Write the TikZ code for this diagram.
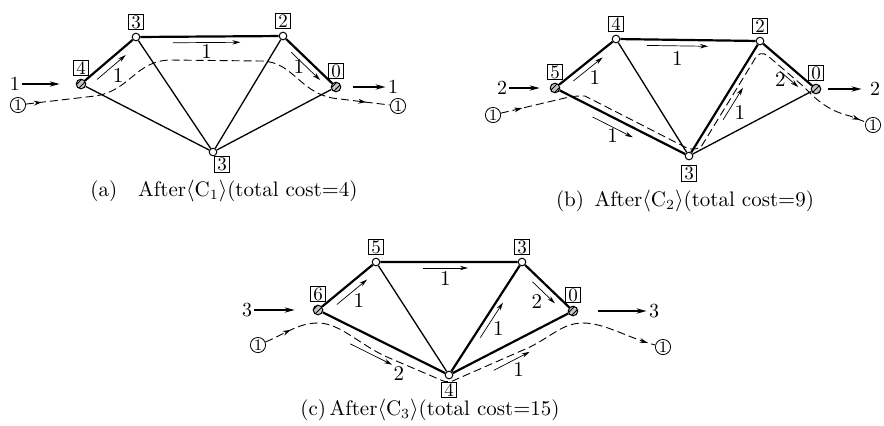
\documentclass[tikz,border=0pt]{standalone}
\usepackage{fontspec}
\usepackage{tikz}
\usetikzlibrary{positioning, arrows.meta, calc, patterns, decorations.markings}

\begin{document}
\begin{tikzpicture}[x=0.5pt, y=-0.5pt, node distance=1.4pt, >=Stealth,
    vtx/.style={circle, draw, fill=white, line width=0.5pt, inner sep=0pt, minimum size=3.8pt},
    term/.style={circle, draw, line width=0.5pt, inner sep=0pt, minimum size=4.8pt, fill=gray!45, postaction={pattern=north east lines}},
    lab/.style={draw, line width=0.4pt, inner sep=0pt, minimum size=7.6pt, font=\fontsize{9.5}{9.5}\selectfont},
    thinedge/.style={line width=0.65pt},
    flowedge/.style={line width=1.1pt},
    flow/.style={->, line width=0.35pt, >={Stealth[length=4pt, width=2.2pt]}},
    flowlab/.style={inner sep=0.6pt, font=\fontsize{10.5}{10.5}\selectfont},
    io/.style={->, line width=1.1pt, >={Stealth[length=5pt, width=2.6pt]}},
    iolab/.style={inner sep=1pt, font=\fontsize{10}{10}\selectfont},
    cnum/.style={circle, draw, line width=0.4pt, inner sep=0pt, minimum size=7.6pt, font=\fontsize{8}{8}\selectfont},
    dpath/.style 2 args={dash pattern=on 4pt off 2pt, line width=0.45pt,
      postaction={decorate, decoration={markings,
        mark=at position #1 with {\arrow{Stealth[length=4pt, width=2.4pt]}},
        mark=at position #2 with {\arrow{Stealth[length=4pt, width=2.4pt]}}}}},
    captxt/.style={inner sep=1pt, font=\fontsize{10.5}{12}\selectfont}]
  \useasboundingbox (0,0) rectangle (884,425);

  % (a) after C1
  \node[term] (aS) at (81,84) {};
  \node[vtx] (aTL) at (136,37) {};
  \node[vtx] (aTR) at (283,36) {};
  \node[term] (aT) at (336,87) {};
  \node[vtx] (aB) at (213,152) {};
  \node[lab, above=of aS] (aSlab) {4};
  \node[lab, above=of aTL] (aTLlab) {3};
  \node[lab, above=of aTR] (aTRlab) {2};
  \node[lab, above=of aT] (aTlab) {0};
  \node[lab, below=0pt of aB, xshift=4.5pt] (aBlab) {3};
  \draw[flowedge] (aS) -- (aTL) -- (aTR) -- (aT);
  \draw[thinedge] (aS) -- (aB) -- (aT) (aTL) -- (aB) -- (aTR);
  \draw[flow] ($(aS)!.21!(aTL)!3.5pt!-90:(aTL)$) -- node[flowlab, below right] {1} ($(aS)!.73!(aTL)!3.5pt!-90:(aTL)$);
  \draw[flow] ($(aTL)!.25!(aTR)!3pt!-90:(aTR)$) -- node[flowlab, below] {1} ($(aTL)!.71!(aTR)!3pt!-90:(aTR)$);
  \draw[flow] ($(aTR)!.23!(aT)!3pt!-90:(aT)$) -- node[flowlab, left] {1} ($(aTR)!.78!(aT)!3pt!-90:(aT)$);
  \node[iolab] (ainL) at (15,84) {1};
  \node[iolab] (aoutR) at (393,87) {1};
  \draw[io, shorten >=8pt] (ainL) -- (aS);
  \draw[io, shorten <=6pt] (aT) -- (aoutR);
  \node[cnum] (aCL) at (18,105) {1};
  \node[cnum] (aCR) at (398,106) {1};
  \draw[dpath={8pt}{-12pt}] (aCL) -- (95,96) .. controls (130,91) and (135,61) .. (170,60) -- (262,61) .. controls (295,62) and (300,96) .. (340,99) -- (aCR);
  \node[captxt] (acap) at (224,191) {(a)\hspace{1em}After$\langle\mathrm{C}_1\rangle$(total cost$=$4)};

  % (b) after C2
  \node[term] (bS) at (555,88) {};
  \node[vtx] (bTL) at (616,39) {};
  \node[vtx] (bTR) at (760,41) {};
  \node[term] (bT) at (816,89) {};
  \node[vtx] (bB) at (689,156) {};
  \node[lab, above=of bS] (bSlab) {5};
  \node[lab, above=of bTL] (bTLlab) {4};
  \node[lab, above=of bTR] (bTRlab) {2};
  \node[lab, above=of bT] (bTlab) {0};
  \node[lab, below=2.5pt of bB] (bBlab) {3};
  \draw[flowedge] (bS) -- (bTL) -- (bTR) -- (bT) (bS) -- (bB) -- (bTR);
  \draw[thinedge] (bTL) -- (bB) -- (bT);
  \draw[flow] ($(bS)!.24!(bTL)!3pt!-90:(bTL)$) -- node[flowlab, below right] {1} ($(bS)!.72!(bTL)!3pt!-90:(bTL)$);
  \draw[flow] ($(bTL)!.215!(bTR)!3pt!-90:(bTR)$) -- node[flowlab, below=2pt] {1} ($(bTL)!.64!(bTR)!3pt!-90:(bTR)$);
  \draw[flow] ($(bS)!.31!(bB)!4.4pt!-90:(bB)$) -- node[flowlab, below] {1} ($(bS)!.61!(bB)!4.4pt!-90:(bB)$);
  \draw[flow] ($(bB)!.36!(bTR)!5pt!-90:(bTR)$) -- node[flowlab, below right] {1} ($(bB)!.64!(bTR)!5pt!-90:(bTR)$);
  \draw[flow] ($(bTR)!.47!(bT)!5pt!-90:(bT)$) -- node[flowlab, left=1pt] {2} ($(bTR)!.8!(bT)!5pt!-90:(bT)$);
  \node[iolab] (binL) at (502,88) {2};
  \node[iolab] (boutR) at (875,89) {2};
  \draw[io, shorten >=5pt] (binL) -- (bS);
  \draw[io, shorten <=3.5pt, shorten >=3pt] (bT) -- (boutR);
  \node[cnum] (bCL) at (493,115) {1};
  \node[cnum] (bCR) at (873,125) {1};
  \draw[dpath={11pt}{-3pt}] (bCL) -- (565,98) .. controls (575,96) .. (585,96) -- (683,146) .. controls (690,150) and (695,150) .. (701,147) -- (753,62) .. controls (758,52) and (763,52) .. (768,56) -- (803,86) .. controls (813,96) and (825,110) .. (850,116) -- (bCR);
  \node[captxt] (bcap) at (685,201) {(b)\enspace After$\langle\mathrm{C}_2\rangle$(total cost$=$9)};

  % (c) after C3
  \node[term] (cS) at (318,310) {};
  \node[vtx] (cTL) at (376,262) {};
  \node[vtx] (cTR) at (522,262) {};
  \node[term] (cT) at (573,311) {};
  \node[vtx] (cB) at (449,375) {};
  \node[lab, above=of cS] (cSlab) {6};
  \node[lab, above=of cTL] (cTLlab) {5};
  \node[lab, above=of cTR] (cTRlab) {3};
  \node[lab, above=of cT] (cTlab) {0};
  \node[lab, below=1.2pt of cB] (cBlab) {4};
  \draw[flowedge] (cS) -- (cTL) -- (cTR) -- (cT) -- (cB) -- (cS) (cB) -- (cTR);
  \draw[thinedge] (cTL) -- (cB);
  \draw[flow] ($(cS)!.24!(cTL)!3.9pt!-90:(cTL)$) -- node[flowlab, below right] {1} ($(cS)!.76!(cTL)!3.9pt!-90:(cTL)$);
  \draw[flow] ($(cTL)!.32!(cTR)!3pt!-90:(cTR)$) -- node[flowlab, below=1pt] {1} ($(cTL)!.63!(cTR)!3pt!-90:(cTR)$);
  \draw[flow] ($(cTR)!.3!(cT)!3.5pt!-90:(cT)$) -- node[flowlab, below left] {2} ($(cTR)!.74!(cT)!3.5pt!-90:(cT)$);
  \draw[flow] ($(cB)!.36!(cTR)!3pt!-90:(cTR)$) -- node[flowlab, below right] {1} ($(cB)!.67!(cTR)!3pt!-90:(cTR)$);
  \draw[flow] ($(cS)!.3!(cB)!8pt!-90:(cB)$) -- node[flowlab, pos=1, below right] {2} ($(cS)!.62!(cB)!8pt!-90:(cB)$);
  \draw[flow] ($(cB)!.3!(cT)!8.2pt!-90:(cT)$) -- node[flowlab, below right] {1} ($(cB)!.59!(cT)!8.2pt!-90:(cT)$);
  \node[iolab] (cinL) at (247,310) {3};
  \node[iolab] (coutR) at (654,311) {3};
  \draw[io, shorten >=9pt] (cinL) -- (cS);
  \draw[io, shorten <=10pt] (cT) -- (coutR);
  \node[cnum] (cCL) at (258,345) {1};
  \node[cnum] (cCR) at (663,347) {1};
  \draw[dpath={14pt}{-4pt}] (cCL) .. controls (285,334) and (298,323) .. (318,323) .. controls (340,323) and (360,345) .. (387,357) -- (441,380) .. controls (446,383) and (452,382) .. (457,379) -- (530,347) .. controls (552,336) and (563,323) .. (583,323) .. controls (605,323) and (628,338) .. (cCR);
  \node[captxt] (ccap) at (430,410) {(c)\,After$\langle\mathrm{C}_3\rangle$(total cost$=$15)};
\end{tikzpicture}
\end{document}
